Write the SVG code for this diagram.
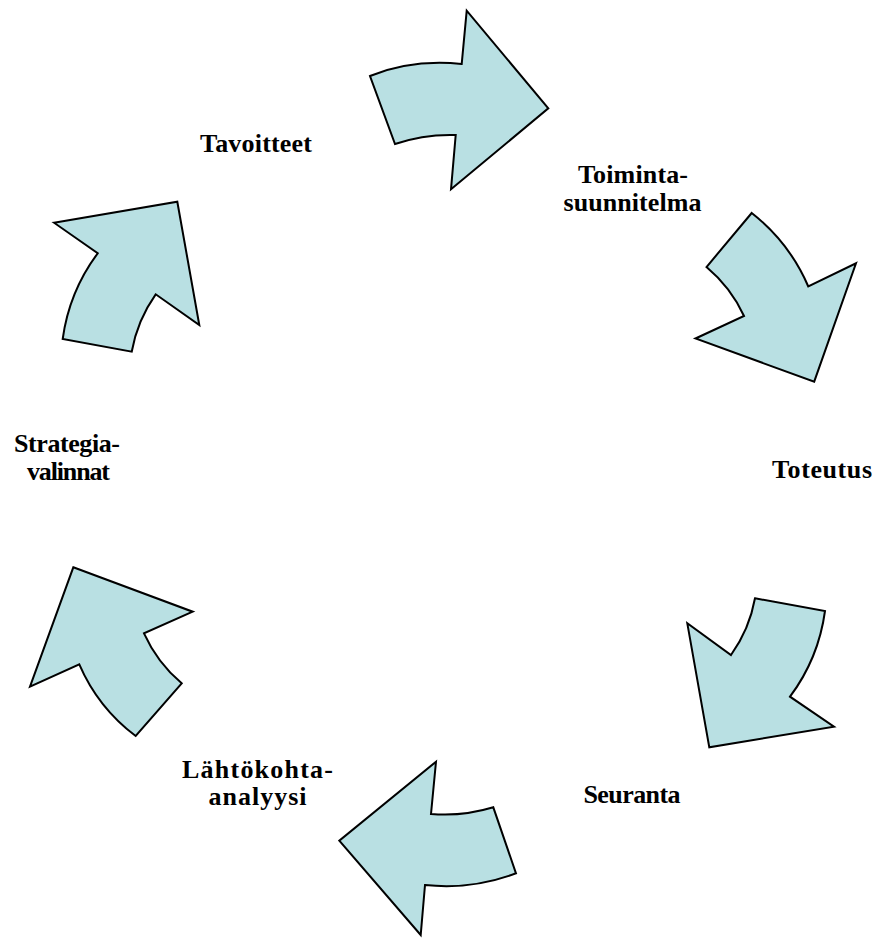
<svg xmlns="http://www.w3.org/2000/svg" width="873" height="938" viewBox="0 0 873 938">
<style>
.arrow{fill:#B9E0E3;stroke:#000;stroke-width:2;stroke-linejoin:miter}
.lbl{font-family:"Liberation Serif","DejaVu Serif","Times New Roman",serif;font-weight:bold;font-size:26px;fill:#000;text-anchor:middle}
</style>
<rect width="873" height="938" fill="#fff"/>
<g id="connectors">
<path id="arrow1" class="arrow" d="M370,76 Q412,59 461.7,64 L466.7,10.7 L548.3,108.3 L451,189.3 L455.7,135 Q424,134 395,144 Z"/>
<path id="arrow2" class="arrow" d="M751.7,213 Q789.5,242.7 808.3,286.5 L856,263.3 L814.2,381.7 L695.5,338.5 L744,316 Q730.7,287.2 706.5,267 Z"/>
<path id="arrow3" class="arrow" d="M755,598.3 L825,611 Q818.6,658.3 790,696.7 L834,726.7 L709.3,747.3 L687.3,623.3 L731,655 Q749.4,629.4 755,598.3 Z"/>
<path id="arrow4" class="arrow" d="M436,761.7 L431,814 Q462.6,816.7 493.3,807.3 L516,873.3 Q472,890 425,885 L420.7,935 L339.3,840.7 Z"/>
<path id="arrow5" class="arrow" d="M73.3,567.3 L192.7,611.7 L144,633.3 Q157.2,662.5 181.7,683.3 L135.7,736 Q98,707.6 79.3,664.3 L30,686.7 Z"/>
<path id="arrow6" class="arrow" d="M54,222.7 L177.3,201.7 L199.3,325 L155.7,294.3 Q137.3,320.3 131.7,351.7 L62.7,339 Q69.1,291.7 97.7,253.3 Z"/>
</g>
<g id="node-tavoitteet"><text class="lbl" x="256" y="152" textLength="112">Tavoitteet</text></g>
<g id="node-toimintasuunnitelma"><text class="lbl" x="633" y="183" textLength="110">Toiminta-</text><text class="lbl" x="632.5" y="211" textLength="138">suunnitelma</text></g>
<g id="node-toteutus"><text class="lbl" x="822" y="478" textLength="100">Toteutus</text></g>
<g id="node-seuranta"><text class="lbl" x="632" y="803" textLength="97">Seuranta</text></g>
<g id="node-lahtokohta"><text class="lbl" x="257.5" y="778" textLength="151">Lähtökohta-</text><text class="lbl" x="257.5" y="805" textLength="98">analyysi</text></g>
<g id="node-strategia"><text class="lbl" x="67" y="451.5" textLength="106">Strategia-</text><text class="lbl" x="68.5" y="480" textLength="83">valinnat</text></g>
</svg>
